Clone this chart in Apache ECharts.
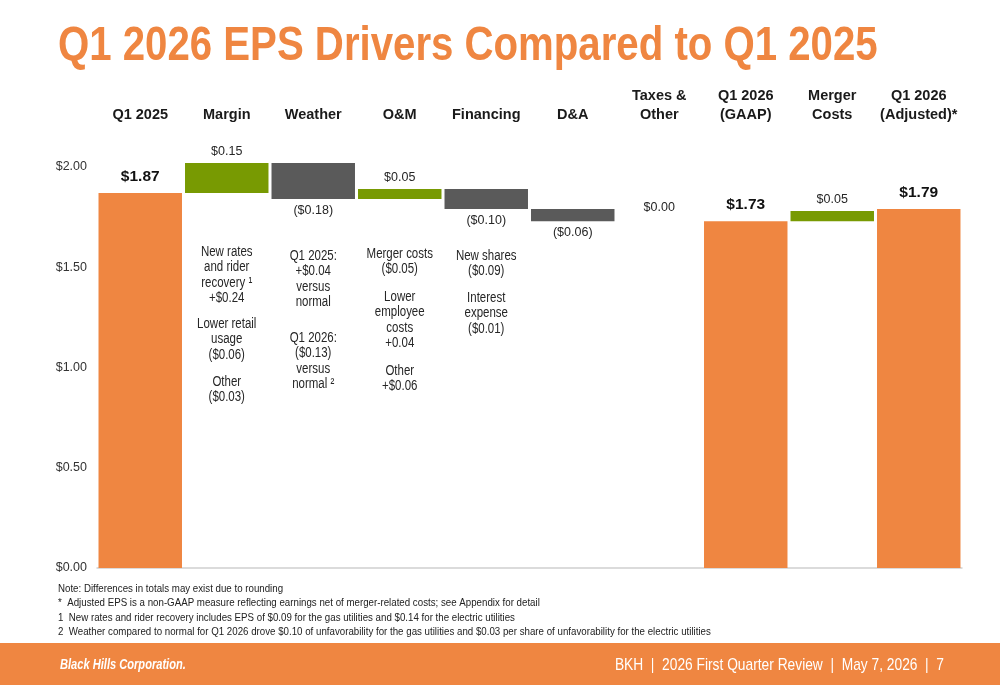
<!DOCTYPE html>
<html><head><meta charset="utf-8">
<script src="https://cdn.jsdelivr.net/npm/echarts@6/dist/echarts.min.js"></script>
<style>html,body{margin:0;padding:0;background:#fff}#c{width:1000px;height:685px}</style>
</head><body><div id="c"></div>
<script>
// ---- data ----
var categories = ['Q1 2025','Margin','Weather','O&M','Financing','D&A','Taxes &\nOther','Q1 2026\n(GAAP)','Merger\nCosts','Q1 2026\n(Adjusted)*'];
var kinds      = ['total','delta','delta','delta','delta','delta','delta','total','delta','total'];
var totals     = [1.87, null, null, null, null, null, null, 1.73, null, 1.79];
var deltas     = [null, 0.15, -0.18, 0.05, -0.10, -0.06, 0.00, null, 0.05, null];
var yTicks     = [0, 0.5, 1.0, 1.5, 2.0];
var notes = [
  {col:1, groups:[['New rates','and rider','recovery \u00b9','+$0.24'],['Lower retail','usage','($0.06)'],['Other','($0.03)']]},
  {col:2, groups:[['Q1 2025:','+$0.04','versus','normal'],['Q1 2026:','($0.13)','versus','normal \u00b2']]},
  {col:3, groups:[['Merger costs','($0.05)'],['Lower','employee','costs','+0.04'],['Other','+$0.06']]},
  {col:4, groups:[['New shares','($0.09)'],['Interest','expense','($0.01)']]}
];
var footnotes = [
  'Note: Differences in totals may exist due to rounding',
  '*  Adjusted EPS is a non-GAAP measure reflecting earnings net of merger-related costs; see Appendix for detail',
  '1  New rates and rider recovery includes EPS of $0.09 for the gas utilities and $0.14 for the electric utilities',
  '2  Weather compared to normal for Q1 2026 drove $0.10 of unfavorability for the gas utilities and $0.03 per share of unfavorability for the electric utilities'
];
var titleText = 'Q1 2026 EPS Drivers Compared to Q1 2025';
var footerLeft = 'Black Hills Corporation.';
var footerRight = 'BKH  |  2026 First Quarter Review  |  May 7, 2026  |  7';

// ---- layout / style ----
var FONT = "'Liberation Sans',Arial,sans-serif";
var ORANGE = '#EF8641', GREEN = '#789A02', GREY = '#5A5A5A', TXT = '#262626';
var noteGroupTop = {1:[244,316,374], 2:[248,330], 3:[246,289,363], 4:[248,290]};
var LH = 15.6, NARROW = 0.82;

// build waterfall
var base = [], vis = [], running = 0;
for (var i = 0; i < categories.length; i++) {
  if (kinds[i] === 'total') {
    running = totals[i];
    base.push(0);
    vis.push({value: totals[i], itemStyle:{color:ORANGE},
      label:{show:true, position:'top', distance:8, formatter:'$'+totals[i].toFixed(2), fontWeight:'bold', fontSize:15.5, color:'#111', fontFamily:FONT}});
  } else {
    var d = deltas[i];
    var lo = d >= 0 ? running : running + d;
    base.push(lo);
    var txt = d < 0 ? '($' + Math.abs(d).toFixed(2) + ')' : '$' + d.toFixed(2);
    vis.push({value: Math.abs(d), itemStyle:{color: d > 0 ? GREEN : GREY},
      label:{show:true, position: d < 0 ? 'bottom' : 'top', distance: d===0 ? 7 : 5, formatter: txt, fontSize:12.5, color:TXT, fontFamily:FONT}});
    running += d;
  }
}

var chart = echarts.init(document.getElementById('c'));
var GL = 97, GR = 38, GT = 167, GB = 117;
var option = {
  animation:false,
  grid:{left:GL, right:GR, top:GT, bottom:GB},
  xAxis:[
    {type:'category', data:categories, position:'bottom',
     axisLine:{show:true, lineStyle:{color:'#CFCFCF', width:1.5}}, axisTick:{show:false}, axisLabel:{show:false}},
    {type:'category', data:categories, position:'top',
     axisLine:{show:false}, axisTick:{show:false},
     axisLabel:{interval:0, margin:43, fontSize:14.5, fontWeight:'bold', color:'#1a1a1a', fontFamily:FONT, lineHeight:19, align:'center'}}
  ],
  yAxis:{type:'value', min:0, max:2, interval:0.5, splitLine:{show:false}, axisLine:{show:false}, axisTick:{show:false},
    axisLabel:{margin:10, fontSize:12.5, color:'#333', fontFamily:FONT, padding:[3,0,0,0], formatter:function(v){return '$'+v.toFixed(2);}}},
  series:[
    {type:'bar', stack:'w', data:base, itemStyle:{color:'transparent'}, barCategoryGap:'3.5%', clip:false, silent:true},
    {type:'bar', stack:'w', data:vis, barCategoryGap:'3.5%', clip:false}
  ]
};
chart.setOption(option);

// graphics: title, annotations, footnotes, footer
var g = [];
g.push({type:'text', x:58, y:46, scaleX:NARROW, style:{text:titleText, fill:ORANGE, fontSize:49, fontWeight:'bold', fontFamily:FONT, verticalAlign:'middle'}});
notes.forEach(function(n){
  var x = chart.convertToPixel({xAxisIndex:0}, categories[n.col]);
  n.groups.forEach(function(lines, gi){
    g.push({type:'text', x:x, y:noteGroupTop[n.col][gi], scaleX:NARROW, style:{text:lines.join('\n'), align:'center', verticalAlign:'top', lineHeight:LH, fontSize:14, fill:TXT, fontFamily:FONT}});
  });
});
footnotes.forEach(function(t, i){
  g.push({type:'text', x:58, y:[583,597,612,626][i], scaleX:0.845, style:{text:t, fontSize:11.5, fill:'#222', fontFamily:FONT, verticalAlign:'top'}});
});
g.push({type:'rect', shape:{x:0, y:643, width:1000, height:42}, style:{fill:ORANGE}});
g.push({type:'text', x:60, y:665, scaleX:0.74, style:{text:footerLeft, fill:'#fff', fontSize:15, fontWeight:'bold', fontStyle:'italic', fontFamily:FONT, verticalAlign:'middle'}});
g.push({type:'text', x:944, y:665, scaleX:0.81, style:{text:footerRight, fill:'#fff', fontSize:17, fontFamily:FONT, align:'right', verticalAlign:'middle'}});
chart.setOption({graphic:g});
</script></body></html>
